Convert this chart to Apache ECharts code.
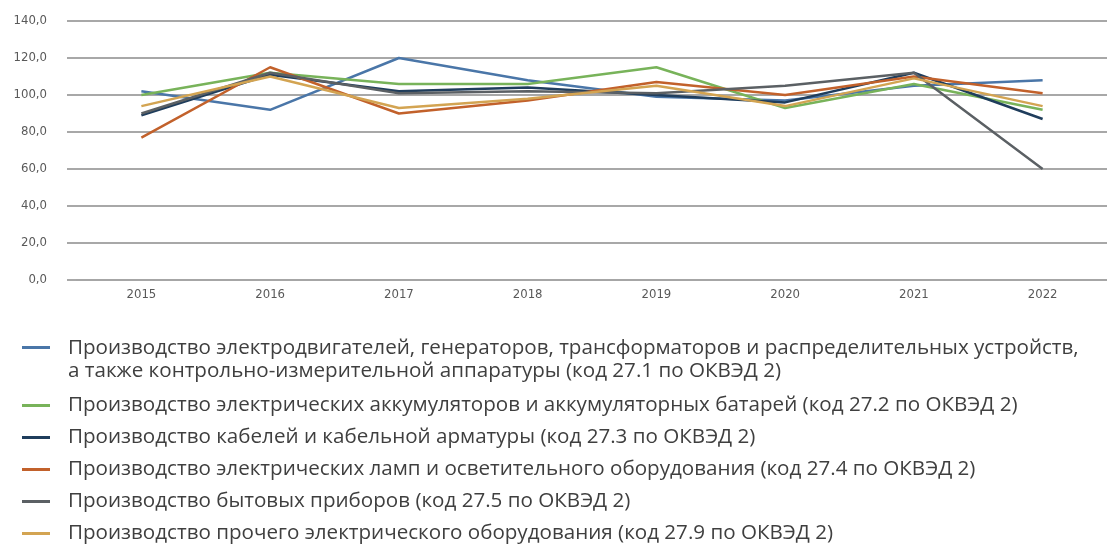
<!DOCTYPE html>
<html><head><meta charset="utf-8">
<script src="https://cdn.jsdelivr.net/npm/echarts@6/dist/echarts.min.js"></script>
<style>html,body{margin:0;padding:0;background:#fff}#c{width:1107px;height:550px}</style>
</head><body><div id="c"></div>
<script>
const years = ['2015','2016','2017','2018','2019','2020','2021','2022'];
const names = [
  'Производство электродвигателей, генераторов, трансформаторов и распределительных устройств, а также контрольно-измерительной аппаратуры (код 27.1 по ОКВЭД 2)',
  'Производство электрических аккумуляторов и аккумуляторных батарей (код 27.2 по ОКВЭД 2)',
  'Производство кабелей и кабельной арматуры (код 27.3 по ОКВЭД 2)',
  'Производство электрических ламп и осветительного оборудования (код 27.4 по ОКВЭД 2)',
  'Производство бытовых приборов (код 27.5 по ОКВЭД 2)',
  'Производство прочего электрического оборудования (код 27.9 по ОКВЭД 2)'
];
const s271 = [102, 92, 120, 108, 99, 97, 105, 108];
const s272 = [100, 112, 106, 106, 115, 93, 106, 92];
const s273 = [89, 111, 102, 104, 100, 96, 112, 87];
const s274 = [77, 115, 90, 97, 107, 100, 110, 101];
const s275 = [90, 112, 101, 102, 101, 105, 112, 60];
const s279 = [94, 110, 93, 98, 105, 94, 109, 94];
const yTicks = [0, 20, 40, 60, 80, 100, 120, 140];

const colors = ['#4a76a8', '#78b35a', '#1f3d5c', '#c2612b', '#5b6064', '#d3a452'];
const values = [s271, s272, s273, s274, s275, s279];
const axisFont = "'Liberation Sans Narrow','DejaVu Sans Condensed','Liberation Sans',sans-serif";
const legFont = "'Open Sans','Noto Sans',sans-serif";

const chart = echarts.init(document.getElementById('c'), null, {renderer:'canvas'});
const series = values.map((v, i) => ({
  name: names[i], type: 'line', data: v, xAxisIndex: 1, yAxisIndex: 1,
  showSymbol: false, symbol: 'none', lineStyle: {width: 2.5, color: colors[i]},
  itemStyle: {color: colors[i]}, z: 3
}));
const iconTall = 'path://M0,0 L0.05,0 L0,0.05 Z M0,9 L28,9 L28,12 L0,12 Z M0,45.95 L0.05,46 L0,46 Z';
const legText = {color: '#3f3f3f', fontSize: 20.6, fontFamily: legFont, lineHeight: 23, padding: [0,0,0,13]};
chart.setOption({
  animation: false,
  grid: [
    {left: 67, right: 0, top: 21, bottom: 270},
    {left: 77, right: -12, top: 21, bottom: 270}
  ],
  xAxis: [
    {gridIndex: 0, type: 'category', data: years, show: false},
    {gridIndex: 1, type: 'category', data: years, boundaryGap: true,
     axisLine: {show: true, lineStyle: {color: '#a6a6a6', width: 2}},
     axisTick: {show: false},
     axisLabel: {color: '#595959', fontSize: 13, fontFamily: axisFont, margin: 8}}
  ],
  yAxis: [
    {gridIndex: 0, type: 'value', min: yTicks[0], max: yTicks[yTicks.length-1], interval: 20,
     axisLine: {show: false}, axisTick: {show: false},
     splitLine: {show: true, lineStyle: {color: '#a8a8a8', width: 2}},
     axisLabel: {color: '#595959', fontSize: 13, fontFamily: axisFont, margin: 20,
       formatter: v => v.toFixed(1).replace('.', ',')}},
    {gridIndex: 1, type: 'value', min: 0, max: 140, interval: 20, show: false,
     splitLine: {show: false}}
  ],
  legend: [
    {left: 22, top: 337, padding: 0, orient: 'vertical', itemWidth: 28, itemHeight: 46,
     data: [{name: names[0], icon: iconTall}],
     formatter: n => n.replace('устройств, ', 'устройств,\n'),
     textStyle: legText, selectedMode: false},
    {left: 22, top: 394, padding: 0, orient: 'vertical', itemWidth: 28, itemHeight: 3, itemGap: 9, icon: 'rect',
     data: names.slice(1), textStyle: legText, selectedMode: false}
  ],
  series: series
});
</script></body></html>
